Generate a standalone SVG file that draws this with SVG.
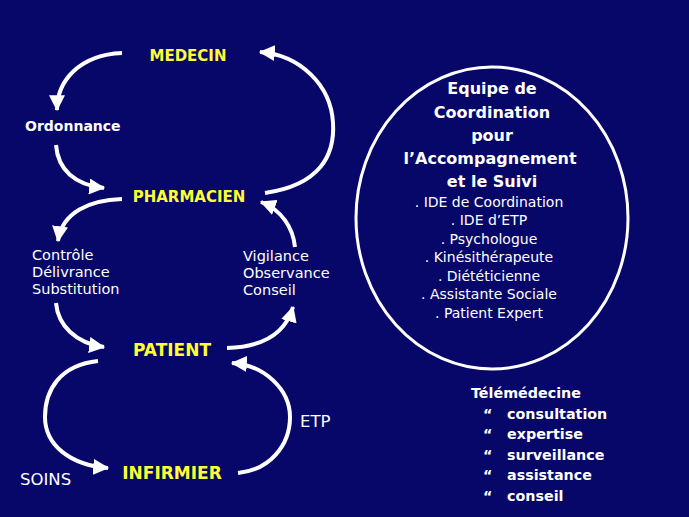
<svg xmlns="http://www.w3.org/2000/svg" width="689" height="517" viewBox="0 0 689 517">
<style>
.bg{fill:#07076a}
.role{font-family:"DejaVu Sans","Liberation Sans",sans-serif;font-weight:bold;font-size:15px;fill:#ffff33;text-anchor:middle}
.big{font-size:17px}
.lbl{font-family:"DejaVu Sans","Liberation Sans",sans-serif;font-size:14.5px;fill:#ffffff}
.lblb{font-family:"DejaVu Sans","Liberation Sans",sans-serif;font-weight:bold;font-size:14px;fill:#ffffff}
.head{font-family:"DejaVu Sans","Liberation Sans",sans-serif;font-weight:bold;font-size:16px;fill:#ffffff;text-anchor:middle}
.item{font-family:"DejaVu Sans","Liberation Sans",sans-serif;font-size:14px;fill:#ffffff;text-anchor:middle}
.tele{font-family:"DejaVu Sans","Liberation Sans",sans-serif;font-weight:bold;font-size:14.3px;fill:#ffffff}
.arr{fill:none;stroke:#ffffff;stroke-width:4;stroke-linecap:butt;marker-end:url(#ah)}
</style>
<defs>
<marker id="ah" markerUnits="userSpaceOnUse" markerWidth="16" markerHeight="16" refX="13" refY="7" orient="auto" viewBox="0 0 14 14">
<path d="M0,0 L14,7 L0,14 z" fill="#ffffff"/>
</marker>
</defs>
<rect class="bg" x="0" y="0" width="689" height="517"/>
<g id="connectors">
<path class="arr" d="M122,53 C80,55 57,80 57,110"/>
<path class="arr" d="M56,145 C58,170 75,185 104,188"/>
<path class="arr" d="M265,193 C320,185 335,155 333,123 C331,85 300,55 260,52"/>
<path class="arr" d="M122,199 C90,200 62,212 58,241"/>
<path class="arr" d="M56,303 C58,325 75,343 104,347"/>
<path class="arr" d="M227,348 C260,347 285,335 293,307"/>
<path class="arr" d="M295,247 C293,228 282,210 261,202"/>
<path class="arr" d="M98,361 C60,365 45,390 45,417 C45,445 70,465 108,468"/>
<path class="arr" d="M238,473 C270,470 290,445 290,417 C290,390 265,365 232,363"/>
</g>
<g id="medecin"><text class="role" x="188" y="61">MEDECIN</text></g>
<g id="ordonnance"><text class="lblb" x="25" y="131">Ordonnance</text></g>
<g id="pharmacien"><text class="role" x="189" y="202">PHARMACIEN</text></g>
<g id="controle"><text class="lbl" x="32" y="260">Contrôle</text><text class="lbl" x="32" y="277">Délivrance</text><text class="lbl" x="32" y="294">Substitution</text></g>
<g id="vigilance"><text class="lbl" x="243" y="261">Vigilance</text><text class="lbl" x="243" y="278">Observance</text><text class="lbl" x="243" y="295">Conseil</text></g>
<g id="patient"><text class="role big" x="172" y="356">PATIENT</text></g>
<g id="infirmier"><text class="role big" x="172" y="479">INFIRMIER</text></g>
<g id="soins"><text class="lbl" x="20" y="485" style="font-size:16.5px">SOINS</text></g>
<g id="etp"><text class="lbl" x="300" y="427" style="font-size:16.5px">ETP</text></g>
<g id="equipe">
<ellipse cx="492" cy="218" rx="136" ry="151" fill="none" stroke="#ffffff" stroke-width="3"/>
<text class="head" x="492" y="94">Equipe de</text>
<text class="head" x="492" y="118">Coordination</text>
<text class="head" x="492" y="141">pour</text>
<text class="head" x="490" y="164">l’Accompagnement</text>
<text class="head" x="492" y="187">et le Suivi</text>
<text class="item" x="489" y="207">. IDE de Coordination</text>
<text class="item" x="489" y="225">. IDE d’ETP</text>
<text class="item" x="489" y="244">. Psychologue</text>
<text class="item" x="489" y="262">. Kinésithérapeute</text>
<text class="item" x="489" y="281">. Diététicienne</text>
<text class="item" x="489" y="299">. Assistante Sociale</text>
<text class="item" x="489" y="318">. Patient Expert</text>
</g>
<g id="telemedecine">
<text class="tele" x="471" y="398">Télémédecine</text>
<text class="tele" x="483" y="419">“</text><text class="tele" x="507" y="419">consultation</text>
<text class="tele" x="483" y="439">“</text><text class="tele" x="507" y="439">expertise</text>
<text class="tele" x="483" y="460">“</text><text class="tele" x="507" y="460">surveillance</text>
<text class="tele" x="483" y="480">“</text><text class="tele" x="507" y="480">assistance</text>
<text class="tele" x="483" y="501">“</text><text class="tele" x="507" y="501">conseil</text>
</g>
</svg>
